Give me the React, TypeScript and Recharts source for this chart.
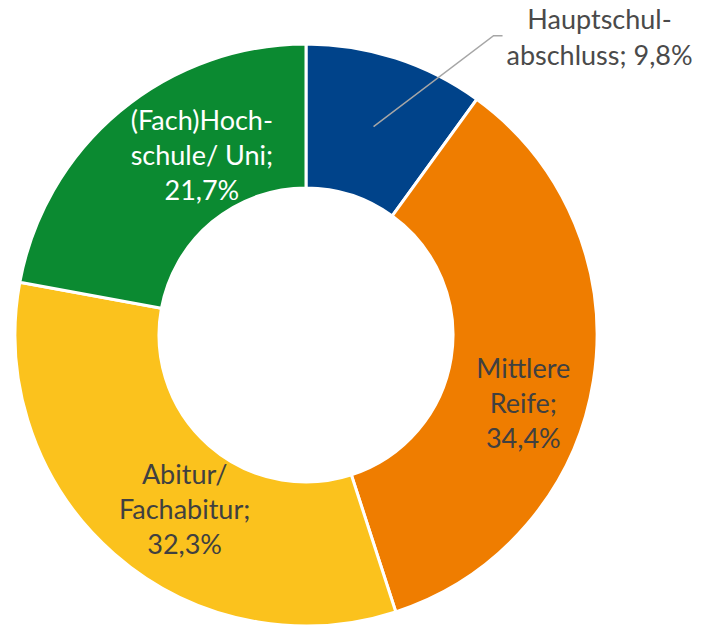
import React from "react";
import { PieChart, Pie, Cell } from "recharts";

const categories = ["Hauptschulabschluss", "Mittlere Reife", "Abitur/Fachabitur", "(Fach)Hochschule/ Uni"];
const values = [9.8, 34.4, 32.3, 21.7];
const labelLines = [
  ["Hauptschul-", "abschluss; 9,8%"],
  ["Mittlere", "Reife;", "34,4%"],
  ["Abitur/", "Fachabitur;", "32,3%"],
  ["(Fach)Hoch-", "schule/ Uni;", "21,7%"],
];
const colors = ["#00438A", "#EF7D00", "#FBC21D", "#0B8A31"];
const textColors = ["#4a4a4a", "#404040", "#404040", "#ffffff"];

const data = categories.map((name, i) => ({ name, value: values[i] }));

// label offsets relative to the mid-ring point of each slice
const labelOffsets: [number, number][] = [
  [226, -90],
  [1, 33],
  [23, 9],
  [36, -12],
];

const RAD = Math.PI / 180;
const LINE_H = 35;
const FONT = "Lato, 'Open Sans', sans-serif";

const renderLabel = (props: any) => {
  const { cx, cy, midAngle, innerRadius, outerRadius, index } = props;
  const r = (innerRadius + outerRadius) / 2;
  const px = cx + r * Math.cos(-midAngle * RAD);
  const py = cy + r * Math.sin(-midAngle * RAD);
  const [dx, dy] = labelOffsets[index];
  const lx = px + dx;
  const ly = py + dy;
  const lines = labelLines[index];
  const n = lines.length;
  return (
    <g key={"lbl" + index}>
      {index === 0 && (
        <polyline
          points={`${px},${py} ${px + 120},${py - 91} ${px + 129},${py - 91}`}
          fill="none"
          stroke="#a6a6a6"
          strokeWidth={1.5}
        />
      )}
      {lines.map((t, i) => (
        <text
          key={i}
          x={lx}
          y={ly + (i - (n - 1) / 2) * (n === 2 ? 36 : LINE_H)}
          textAnchor="middle"
          dominantBaseline="central"
          fill={textColors[index]}
          fontFamily={FONT}
          fontSize={27}
        >
          {t}
        </text>
      ))}
    </g>
  );
};

export default function App() {
  return (
    <div style={{ position: "absolute", left: 0, top: 0, width: 704, height: 629, background: "#fff" }}>
      <PieChart width={704} height={629} margin={{ top: 0, right: 0, bottom: 0, left: 0 }}>
        <Pie
          data={data}
          dataKey="value"
          nameKey="name"
          cx={306}
          cy={335}
          innerRadius={147}
          outerRadius={291}
          startAngle={90}
          endAngle={-270}
          stroke="#ffffff"
          strokeWidth={3}
          label={renderLabel}
          labelLine={false}
          isAnimationActive={false}
        >
          {data.map((d, i) => (
            <Cell key={d.name} fill={colors[i]} />
          ))}
        </Pie>
      </PieChart>
    </div>
  );
}
